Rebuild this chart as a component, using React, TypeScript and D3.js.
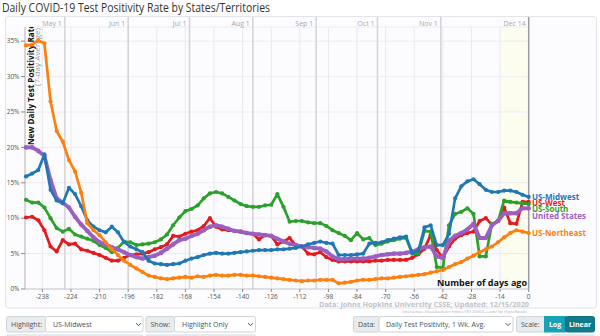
import React from "react";
import * as d3 from "d3";

const days = [
  -246, -243, -240, -237, -234, -231, -228, -225, -222, -219,
  -216, -213, -210, -207, -204, -201, -198, -195, -192, -189,
  -186, -183, -180, -177, -174, -171, -168, -165, -162, -159,
  -156, -153, -150, -147, -144, -141, -138, -135, -132, -129,
  -126, -123, -120, -117, -114, -111, -108, -105, -102, -99,
  -96, -93, -90, -87, -84, -81, -78, -75, -72, -69,
  -66, -63, -60, -57, -54, -51, -48, -45, -42, -39,
  -36, -33, -30, -27, -24, -21, -18, -15, -12, -9,
  -6, -3, 0,
];

const northeast = [
  34.4, 34.5, 35.1, 34.7, 26.5, 22.3, 20.8, 18.2, 16.6, 13.6,
  9.3, 8.3, 7.6, 6.6, 5.6, 4.8, 4.0, 3.4, 2.9, 2.4,
  1.9, 1.7, 1.5, 1.4, 1.5, 1.6, 1.7, 1.6, 1.8, 1.7,
  1.9, 2.0, 1.9, 1.9, 2.0, 2.0, 1.9, 1.9, 1.8, 1.7,
  1.6, 1.5, 1.4, 1.3, 1.2, 1.1, 1.2, 1.2, 1.3, 1.3,
  1.3, 0.8, 0.9, 1.0, 1.2, 1.3, 1.3, 1.4, 1.5, 1.5,
  1.6, 1.7, 1.8, 1.9, 2.0, 2.1, 2.3, 2.5, 2.7, 3.1,
  3.5, 3.8, 4.3, 4.7, 5.2, 5.6, 6.0, 6.6, 7.3, 7.9,
  8.3, 8.1, 7.9,
];

const midwest = [
  15.9, 16.3, 16.8, 19.0, 14.0, 12.5, 12.1, 14.3, 13.4, 11.7,
  9.7, 8.8, 8.3, 8.0, 8.8, 8.0, 6.6, 6.0, 5.6, 5.2,
  4.0, 3.6, 3.5, 3.4, 3.5, 3.6, 4.0, 4.3, 4.5, 4.8,
  5.0, 5.1, 5.0, 5.0, 5.1, 5.2, 5.3, 5.4, 5.5, 5.5,
  5.5, 5.6, 5.6, 5.7, 5.8, 6.0, 6.3, 6.5, 6.7, 6.5,
  6.4, 4.8, 4.8, 4.8, 4.9, 5.0, 6.4, 6.5, 6.6, 6.9,
  7.1, 7.3, 7.4, 5.1, 5.4, 8.7, 9.0, 6.2, 6.2, 7.8,
  12.8, 14.5, 15.2, 15.5, 14.8, 14.0, 13.7, 13.7, 13.9, 13.9,
  13.7, 13.3, 13.0,
];

const south = [
  12.6, 12.2, 12.2, 11.5, 10.0, 8.6, 8.1, 8.5, 7.7, 7.4,
  7.1, 6.8, 6.2, 5.8, 5.2, 5.8, 6.7, 6.6, 6.2, 6.3,
  6.4, 6.6, 7.0, 7.7, 9.0, 10.1, 11.0, 11.3, 11.8, 12.8,
  13.5, 13.7, 13.5, 13.0, 12.5, 12.0, 11.7, 11.6, 11.6, 11.8,
  11.9, 13.4, 11.6, 9.5, 9.6, 9.6, 9.4, 9.3, 9.3, 8.9,
  8.3, 7.9, 7.5, 6.9, 7.9, 7.0, 7.2, 6.2, 6.4, 6.7,
  6.9, 7.1, 7.2, 5.0, 5.0, 8.2, 8.1, 3.1, 3.0, 9.0,
  10.6, 10.9, 11.4, 10.6, 4.6, 4.6, 9.2, 9.6, 12.5, 12.3,
  12.2, 12.1, 12.0,
];

const west = [
  10.1, 10.2, 9.7, 8.3, 6.0, 5.3, 6.9, 6.3, 6.4, 5.6,
  5.4, 5.1, 4.8, 4.4, 4.0, 4.0, 4.4, 4.8, 4.9, 5.0,
  5.2, 5.6, 5.9, 6.3, 7.5, 7.4, 7.8, 8.1, 8.3, 8.9,
  10.0, 8.8, 8.4, 8.3, 8.2, 8.1, 7.9, 7.8, 7.0, 7.6,
  7.5, 6.3, 6.7, 7.2, 6.2, 6.0, 5.0, 4.9, 5.2, 4.5,
  4.1, 3.9, 3.9, 3.9, 3.9, 3.9, 3.9, 4.0, 4.0, 4.1,
  4.1, 4.1, 4.1, 4.4, 4.9, 5.7, 7.6, 5.5, 4.4, 6.0,
  7.1, 7.6, 7.9, 8.1, 9.6, 10.0, 9.1, 9.6, 11.5, 9.3,
  9.2, 12.3, 12.3,
];

const unitedStates = [
  20.0, 20.0, 19.5, 18.8, 15.4, 12.8, 12.2, 11.5, 10.2, 9.1,
  8.2, 7.3, 6.6, 6.3, 5.9, 5.6, 5.2, 4.8, 4.5, 4.3,
  4.5, 4.7, 5.1, 5.7, 6.3, 6.9, 7.1, 7.5, 7.8, 8.3,
  8.8, 9.0, 8.8, 8.5, 8.2, 8.1, 7.9, 7.8, 7.7, 7.6,
  7.5, 7.1, 6.7, 6.4, 6.2, 6.0, 5.9, 5.8, 5.7, 5.3,
  4.6, 4.2, 4.2, 4.3, 4.3, 4.3, 4.4, 4.6, 4.8, 4.9,
  5.0, 5.0, 5.1, 5.3, 5.6, 5.9, 6.0, 4.6, 4.4, 6.8,
  7.5, 7.9, 8.4, 9.2, 7.2, 7.2, 9.0, 9.6, 10.7, 10.7,
  10.7, 11.4, 11.4,
];

const seriesNames = ["US-West", "US-South", "United States", "US-Midwest", "US-Northeast"];
const seriesColors = ["#e41a1c", "#2ca02c", "#9b5fc0", "#1f77b4", "#ff7f0e"];
const yTicks = [0, 5, 10, 15, 20, 25, 30, 35];
const xTicks = [-238, -224, -210, -196, -182, -168, -154, -140, -126, -112, -98, -84, -70, -56, -42, -28, -14, 0];
const monthLabels = ["May 1", "Jun 1", "Jul 1", "Aug 1", "Sep 1", "Oct 1", "Nov 1", "Dec 14"];
const monthDays = [-227, -196, -166, -135, -104, -74, -43, 0];

const FONT = "'Open Sans', 'DejaVu Sans', sans-serif";

function Chevron({ cx, cy }: { cx: number; cy: number }) {
  return (
    <path
      d={`M${cx - 2.5},${cy - 1.2} L${cx},${cy + 1.3} L${cx + 2.5},${cy - 1.2}`}
      fill="none"
      stroke="#495057"
      strokeWidth={1}
    />
  );
}

export default function App() {
  const x = d3.scaleLinear().domain([-246.5, 0]).range([25, 528.7]);
  const y = d3.scaleLinear().domain([0, 37]).range([289, 27]);
  const valuesList = [west, south, unitedStates, midwest, northeast];
  const series = seriesNames.map((name, k) => ({
    name,
    values: valuesList[k],
    color: seriesColors[k],
    width: name === "United States" ? 3.8 : 2.7,
  }));
  const line = d3
    .line<number>()
    .x((_, i) => x(days[i]))
    .y((d) => y(d))
    .curve(d3.curveLinear);

  const labels = series
    .map((s) => ({ name: s.name, color: s.color, y: y(s.values[s.values.length - 1]) }))
    .sort((a, b) => a.y - b.y);
  for (let i = 1; i < labels.length; i++) {
    if (labels[i].y < labels[i - 1].y + 6.3) labels[i].y = labels[i - 1].y + 6.3;
  }

  const plotTop = 27;
  const plotBottom = 289;
  const x0 = x(0);

  return (
    <svg
      width={600}
      height={336}
      viewBox="0 0 600 336"
      style={{ position: "absolute", left: 0, top: 0, background: "#ffffff" }}
      fontFamily={FONT}
    >
      <defs>
        <clipPath id="plotclip">
          <rect x={0} y={plotTop} width={600} height={300} />
        </clipPath>
      </defs>
      <text x={2} y={11.5} fontSize={12.5} fill="#333" textLength={268} lengthAdjust="spacingAndGlyphs">
        Daily COVID-19 Test Positivity Rate by States/Territories
      </text>
      <rect x={5.5} y={16.5} width={591} height={291.5} rx={3} fill="#fcfcfe" stroke="#e3e3ea" />
      <rect x={x(-13)} y={plotTop} width={x0 - x(-13)} height={plotBottom - plotTop} fill="#fcfcef" />
      {yTicks.map((t) => (
        <line key={"hg" + t} x1={x(-246.5)} x2={x0} y1={y(t)} y2={y(t)} stroke="#ebebf2" strokeWidth={1} />
      ))}
      <line x1={x(-246.5)} x2={x0} y1={plotTop} y2={plotTop} stroke="#ebebf2" strokeWidth={1} />
      {xTicks.map((t) => (
        <line key={"vg" + t} x1={x(t)} x2={x(t)} y1={plotTop} y2={plotBottom} stroke="#e8e8ef" strokeWidth={1} />
      ))}
      {monthDays.map((d, i) => (
        <g key={"m" + d}>
          <line
            x1={x(d)}
            x2={x(d)}
            y1={17}
            y2={plotBottom}
            stroke={d === 0 ? "#9a9aa2" : "#d2d2d8"}
            strokeWidth={1.5}
          />
          <text x={x(d) - 3} y={26} fontSize={7} fill="#a8a8b0" textAnchor="end">
            {monthLabels[i]}
          </text>
        </g>
      ))}
      <line x1={25} x2={25} y1={plotTop} y2={plotBottom} stroke="#c8c8cf" strokeWidth={1.5} />
      {yTicks.map((t) => (
        <g key={"yt" + t}>
          <line x1={21} x2={25} y1={y(t)} y2={y(t)} stroke="#888" strokeWidth={1} />
          <text x={19.5} y={y(t) + 2.3} fontSize={6.5} fill="#555" textAnchor="end">
            {t + "%"}
          </text>
        </g>
      ))}
      <line x1={25} x2={x0} y1={plotBottom} y2={plotBottom} stroke="#c8c8cf" strokeWidth={1} />
      {xTicks.map((t) => (
        <g key={"xt" + t}>
          <line x1={x(t)} x2={x(t)} y1={plotBottom} y2={plotBottom + 3} stroke="#888" strokeWidth={1} />
          <text x={x(t)} y={298.5} fontSize={6.5} fill="#555" textAnchor="middle">
            {t}
          </text>
        </g>
      ))}
      <g clipPath="url(#plotclip)">
        <text
          transform="translate(33.5,145) rotate(-90)"
          fontSize={8.5}
          fontWeight="bold"
          fill="#111"
          textLength={121}
          lengthAdjust="spacingAndGlyphs"
        >
          New Daily Test Positivity Rate
        </text>
        <text
          transform="translate(39.8,86) rotate(-90)"
          fontSize={7}
          fill="#9a9aa2"
          textLength={58}
          lengthAdjust="spacingAndGlyphs"
        >
          (7-day Average)
        </text>
      </g>
      {series.map((s) => (
        <g key={s.name}>
          <path
            d={line(s.values) || ""}
            fill="none"
            stroke={s.color}
            strokeWidth={s.width}
            strokeLinejoin="round"
            strokeLinecap="round"
          />
          {s.values.map((v, i) => (
            <circle key={i} cx={x(days[i])} cy={y(v)} r={s.name === "United States" ? 2.3 : 2.1} fill={s.color} />
          ))}
        </g>
      ))}
      {labels.map((l) => (
        <text key={"lab" + l.name} x={532} y={l.y + 2.8} fontSize={8} fontWeight="bold" fill={l.color}>
          {l.name}
        </text>
      ))}
      <text x={527} y={286} fontSize={9} fontWeight="bold" fill="#111" textAnchor="end">
        Number of days ago
      </text>
      <text x={529} y={307} fontSize={7.3} fontWeight="bold" fill="#c2c2c8" textAnchor="end">
        Data: Johns Hopkins University CSSE; Updated: 12/15/2020
      </text>
      <text x={529} y={312.5} fontSize={4.3} fill="#b0b0b8" textAnchor="end">
        Interactive Visualization: https://91-DIVOC.com/ by @profwade_
      </text>
      <g fontSize={7} fill="#495057">
        <rect x={6.5} y={316.5} width={39} height={15.5} rx={2} fill="#e9ecef" stroke="#ced4da" />
        <text x={11} y={326.8}>Highlight:</text>
        <rect x={45.5} y={316.5} width={97.5} height={15.5} rx={2} fill="#fff" stroke="#ced4da" />
        <text x={53} y={326.8}>US-Midwest</text>
        <Chevron cx={138.5} cy={324.3} />

        <rect x={146} y={316.5} width={28.5} height={15.5} rx={2} fill="#e9ecef" stroke="#ced4da" />
        <text x={150.5} y={326.8}>Show:</text>
        <rect x={174.5} y={316.5} width={81} height={15.5} rx={2} fill="#fff" stroke="#ced4da" />
        <text x={182} y={326.8}>Highlight Only</text>
        <Chevron cx={250.5} cy={324.3} />

        <rect x={353.5} y={316.5} width={25.5} height={15.5} rx={2} fill="#e9ecef" stroke="#ced4da" />
        <text x={358} y={326.8}>Data:</text>
        <rect x={379} y={316.5} width={134} height={15.5} rx={2} fill="#fff" stroke="#ced4da" />
        <text x={386} y={326.8}>Daily Test Positivity, 1 Wk. Avg.</text>
        <Chevron cx={508} cy={324.3} />

        <rect x={516.5} y={316.5} width={28} height={15.5} rx={2} fill="#e9ecef" stroke="#ced4da" />
        <text x={521} y={326.8}>Scale:</text>
        <rect x={544.5} y={316.5} width={21} height={15.5} fill="#17a2b8" stroke="#17a2b8" />
        <text x={555} y={326.8} fill="#fff" textAnchor="middle" fontWeight="bold">Log</text>
        <rect x={565.5} y={316.5} width={29} height={15.5} rx={2} fill="#117a8b" stroke="#10707f" />
        <text x={580} y={326.8} fill="#fff" textAnchor="middle" fontWeight="bold">Linear</text>

        <rect x={6.5} y={335} width={136.5} height={8} rx={2} fill="#fff" stroke="#ced4da" />
        <rect x={146} y={335} width={109.5} height={8} rx={2} fill="#fff" stroke="#ced4da" />
        <rect x={551} y={335} width={43.5} height={8} rx={2} fill="#fff" stroke="#ced4da" />
      </g>
    </svg>
  );
}
